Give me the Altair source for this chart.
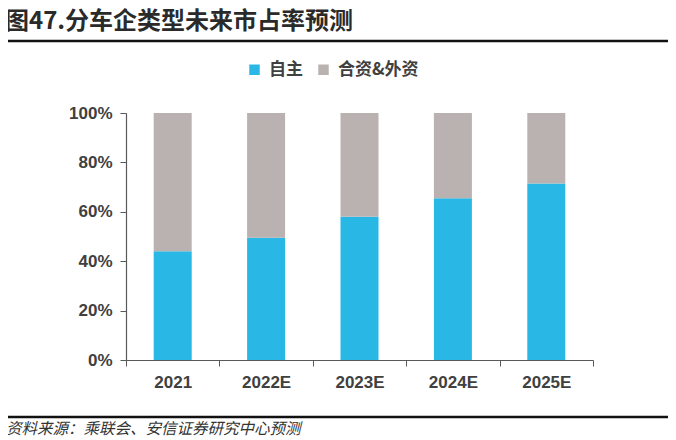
import altair as alt
import pandas as pd

years = ["2021", "2022E", "2023E", "2024E", "2025E"]
own_brand = [44.0, 49.5, 58.0, 65.5, 71.5]
joint_foreign = [100 - v for v in own_brand]
series = ["自主", "合资&外资"]
colors = ["#29B8E5", "#BAB2B0"]

title_text = "图47.分车企类型未来市占率预测"
source_text = "资料来源：乘联会、安信证券研究中心预测"

rows = []
for y, a, b in zip(years, own_brand, joint_foreign):
    rows.append({"year": y, "series": series[0], "value": a, "ord": 0})
    rows.append({"year": y, "series": series[1], "value": b, "ord": 1})
df = pd.DataFrame(rows)

W, H = 467, 247
CJK = "Noto Sans CJK SC"
LAT = "Liberation Sans"

bars = alt.Chart(df).mark_bar(size=38).encode(
    x=alt.X("year:N", sort=years, title=None,
            scale=alt.Scale(paddingInner=0, paddingOuter=0),
            axis=alt.Axis(labelAngle=0, labelFont=LAT, labelFontSize=17, labelFontWeight="bold",
                          labelColor="#404040", domainColor="#595959", tickColor="#595959",
                          tickBand="extent", tickSize=6, labelPadding=8, domainWidth=1.2)),
    y=alt.Y("value:Q", stack="zero", title=None,
            scale=alt.Scale(domain=[0, 100]),
            axis=alt.Axis(values=[0, 20, 40, 60, 80, 100], labelExpr="datum.value + '%'",
                          labelFont=LAT, labelFontSize=17, labelFontWeight="bold",
                          labelColor="#404040", domainColor="#595959", tickColor="#595959",
                          tickSize=6, labelPadding=8, grid=False, domainWidth=1.2)),
    color=alt.Color("series:N", sort=series,
                    scale=alt.Scale(domain=series, range=colors),
                    legend=alt.Legend(orient="none", legendX=120, legendY=-52, direction="horizontal",
                                      title=None, symbolType="square", symbolSize=110,
                                      symbolStrokeWidth=0, labelFont=CJK, labelFontSize=17,
                                      labelFontWeight="bold", labelColor="#404040",
                                      columnPadding=12, labelOffset=6)),
    order=alt.Order("ord:Q"),
)

title = alt.Chart(pd.DataFrame({"t": [title_text]})).mark_text(
    align="left", baseline="alphabetic", font=CJK, fontSize=24, fontWeight="bold", color="#2a2a2a"
).encode(text="t:N", x=alt.value(-121), y=alt.value(-84))

top_line = alt.Chart(pd.DataFrame({"a": [0]})).mark_rule(color="#111111", strokeWidth=2.5).encode(
    x=alt.value(-122), x2=alt.value(546), y=alt.value(-72))

bottom_line = alt.Chart(pd.DataFrame({"a": [0]})).mark_rule(color="#111111", strokeWidth=2.5).encode(
    x=alt.value(-122), x2=alt.value(546), y=alt.value(304))

source = alt.Chart(pd.DataFrame({"t": [source_text]})).mark_text(
    align="left", baseline="alphabetic", font=CJK, fontSize=15.5, fontStyle="italic", color="#333333"
).encode(text="t:N", x=alt.value(-120), y=alt.value(321))

chart = alt.layer(bars, title, top_line, bottom_line, source).properties(
    width=W, height=H,
    autosize=alt.AutoSizeParams(type="none"),
    padding={"left": 118, "top": 105, "right": 75, "bottom": 80},
).configure_view(stroke=None)

chart.save("out.html", embed_options={"renderer": "svg", "actions": False})
